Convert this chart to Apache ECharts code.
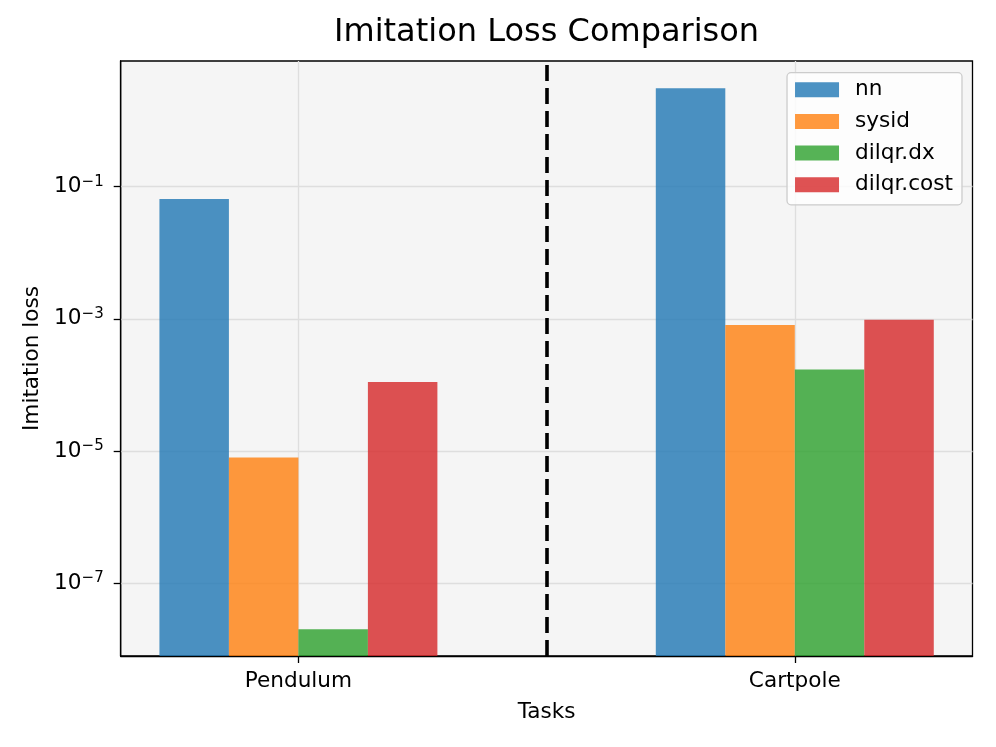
<!DOCTYPE html>
<html>
<head>
<meta charset="utf-8">
<script src="https://cdn.jsdelivr.net/npm/echarts@6/dist/echarts.min.js"></script>
<style>
html,body{margin:0;padding:0;background:#fff;}
#chart{width:996px;height:747px;}
</style>
</head>
<body>
<div id="chart"></div>
<script>
const categories = ['Pendulum', 'Cartpole'];
const seriesNames = ['nn', 'sysid', 'dilqr.dx', 'dilqr.cost'];
const nnValues = [0.0652, 3.09];
const sysidValues = [7.94e-6, 8.03e-4];
const dilqrDxValues = [2.0e-8, 1.71e-4];
const dilqrCostValues = [1.10e-4, 9.66e-4];
const yTickExponents = [-7, -5, -3, -1];
const seriesColors = ['rgba(31,119,180,0.8)', 'rgba(255,127,14,0.8)', 'rgba(44,160,44,0.8)', 'rgba(214,39,40,0.8)'];

const allValues = [nnValues, sysidValues, dilqrDxValues, dilqrCostValues];
const barUnit = 0.14;          // bar width in x-axis units
const yMin = Math.pow(10, -8.105);
const yMax = Math.pow(10, 0.903);
const yTickValues = yTickExponents.map(e => Math.pow(10, e));
const font = 'DejaVu Sans';

const chart = echarts.init(document.getElementById('chart'));
const series = seriesNames.map((name, s) => ({
  name: name,
  type: 'custom',
  clip: true,
  itemStyle: { color: seriesColors[s] },
  data: categories.map((c, i) => [i, allValues[s][i]]),
  renderItem: (params, api) => {
    const x = api.value(0);
    const v = api.value(1);
    const x0 = x + (s - seriesNames.length / 2) * barUnit;
    const topLeft = api.coord([x0, v]);
    const bottomRight = api.coord([x0 + barUnit, yMin]);
    return {
      type: 'rect',
      shape: {
        x: topLeft[0],
        y: topLeft[1],
        width: bottomRight[0] - topLeft[0],
        height: bottomRight[1] - topLeft[1]
      },
      style: { fill: api.visual('color') }
    };
  }
}));
series.push({
  name: '_divider',
  type: 'line',
  data: [],
  silent: true,
  markLine: {
    silent: true,
    symbol: ['none', 'none'],
    label: { show: false },
    lineStyle: { color: '#000', width: 3.6, type: [16, 7] },
    data: [{ xAxis: (categories.length - 1) / 2 }]
  }
});

chart.setOption({
  animation: false,
  title: {
    text: 'Imitation Loss Comparison',
    left: 546.6,
    textAlign: 'center',
    top: 17,
    padding: 0,
    textStyle: { fontFamily: font, fontSize: 32, fontWeight: 'normal', color: '#000' }
  },
  legend: {
    data: seriesNames,
    orient: 'vertical',
    right: 34,
    top: 72.7,
    icon: 'rect',
    itemWidth: 44,
    itemHeight: 15,
    itemGap: 9.7,
    padding: [6, 9, 9, 8],
    backgroundColor: 'rgba(255,255,255,0.8)',
    borderColor: '#cccccc',
    borderWidth: 1.3,
    borderRadius: 4,
    textStyle: { fontFamily: font, fontSize: 21.6, color: '#000', lineHeight: 22, padding: [0, 0, 0, 11] }
  },
  grid: {
    left: 120.7,
    right: 23.5,
    top: 61,
    bottom: 91,
    show: true,
    backgroundColor: '#f5f5f5',
    borderColor: '#000',
    borderWidth: 1.3
  },
  xAxis: {
    type: 'value',
    min: -0.358,
    max: (categories.length - 1) + 0.358,
    name: 'Tasks',
    nameLocation: 'middle',
    nameGap: 45,
    nameTextStyle: { fontFamily: font, fontSize: 21.6, color: '#000' },
    axisLine: { show: true, onZero: false, lineStyle: { color: '#000', width: 1.3 } },
    axisTick: { show: true, length: 7, lineStyle: { color: '#000', width: 1.3 }, customValues: categories.map((c, i) => i) },
    axisLabel: {
      fontFamily: font, fontSize: 21.6, color: '#000', margin: 14,
      customValues: categories.map((c, i) => i),
      formatter: v => categories[Math.round(v)] || ''
    },
    splitLine: { show: true, lineStyle: { color: '#dedede', width: 1.3 } }
  },
  yAxis: {
    type: 'log',
    logBase: 10,
    min: yMin,
    max: yMax,
    name: 'Imitation loss',
    nameLocation: 'middle',
    nameGap: 72,
    nameTextStyle: { fontFamily: font, fontSize: 21.6, color: '#000' },
    axisLine: { show: true, onZero: false, lineStyle: { color: '#000', width: 1.3 } },
    axisTick: { show: true, length: 7, lineStyle: { color: '#000', width: 1.3 }, customValues: yTickValues },
    minorTick: { show: false },
    axisLabel: {
      fontFamily: font, color: '#000', margin: 17,
      customValues: yTickValues,
      formatter: v => {
        const e = Math.round(Math.log10(v));
        return '{b|10}{s|' + (e < 0 ? '\u2212' : '') + Math.abs(e) + '}';
      },
      rich: {
        b: { fontFamily: font, fontSize: 21.6, color: '#000', lineHeight: 24 },
        s: { fontFamily: font, fontSize: 15, color: '#000', lineHeight: 15, verticalAlign: 'top' }
      }
    },
    splitLine: { show: true, lineStyle: { color: '#dedede', width: 1.3 } }
  },
  series: series
});
</script>
</body>
</html>
